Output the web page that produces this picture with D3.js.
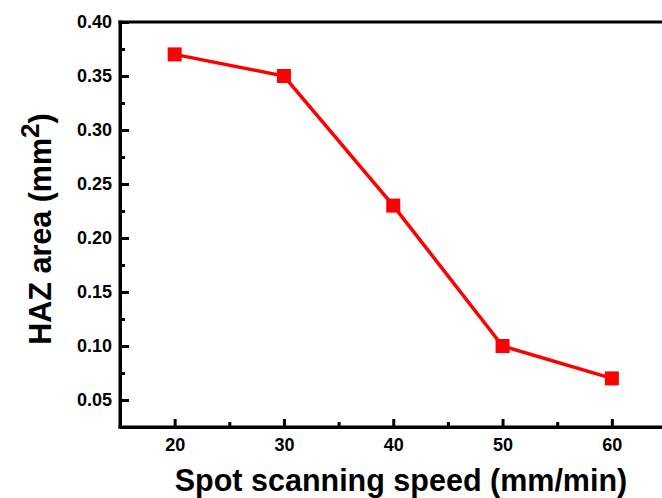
<!DOCTYPE html>
<html>
<head>
<meta charset="utf-8">
<script src="https://cdn.jsdelivr.net/npm/d3@7"></script>
<style>
  body { margin: 0; background: #fff; }
  svg text { font-family: Arial, "Liberation Sans", sans-serif; font-weight: bold; }
</style>
</head>
<body>
<div id="chart"></div>
<script>
// data
const speeds = [20, 30, 40, 50, 60];
const hazArea = [0.37, 0.35, 0.23, 0.10, 0.07];
const xTicks = [20, 30, 40, 50, 60];
const xMinor = [25, 35, 45, 55, 65];
const yTicks = [0.05, 0.10, 0.15, 0.20, 0.25, 0.30, 0.35, 0.40];
const yMinor = [0.075, 0.125, 0.175, 0.225, 0.275, 0.325, 0.375];

const W = 662, H = 498;
const mLeft = 120, mTop = 22, mBottom = 427;

const svg = d3.select("#chart").append("svg")
  .attr("width", W).attr("height", H);

const x = d3.scaleLinear().domain([15, 65]).range([mLeft, mLeft + 546.5]);
const y = d3.scaleLinear().domain([0.025, 0.40]).range([mBottom, mTop]);

// minor ticks
svg.append("g").attr("transform", `translate(0,${mBottom})`)
  .call(d3.axisBottom(x).tickValues(xMinor).tickSize(-5).tickFormat(""))
  .call(g => g.select(".domain").remove());
svg.append("g").attr("transform", `translate(${mLeft},0)`)
  .call(d3.axisLeft(y).tickValues(yMinor).tickSize(-5).tickFormat(""))
  .call(g => g.select(".domain").remove());

// major axes
const xAxis = svg.append("g").attr("transform", `translate(0,${mBottom})`)
  .call(d3.axisBottom(x).tickValues(xTicks).tickSizeInner(-8).tickSizeOuter(0).tickPadding(11));
const yAxis = svg.append("g").attr("transform", `translate(${mLeft},0)`)
  .call(d3.axisLeft(y).tickValues(yTicks).tickSizeInner(-9).tickSizeOuter(0).tickPadding(8)
    .tickFormat(d3.format(".2f")));

[xAxis, yAxis].forEach(g => {
  g.selectAll("text").style("font-size", "18px").attr("fill", "#000");
  g.select(".domain").attr("stroke-width", 3);
});
svg.selectAll(".tick line").attr("stroke-width", 3);

// top frame line
svg.append("line")
  .attr("x1", mLeft - 1.5).attr("x2", W)
  .attr("y1", mTop).attr("y2", mTop)
  .attr("stroke", "#000").attr("stroke-width", 3);
// extend axis lines to cover corners
svg.append("line")
  .attr("x1", mLeft).attr("x2", mLeft)
  .attr("y1", mTop - 1.5).attr("y2", mBottom + 1.5)
  .attr("stroke", "#000").attr("stroke-width", 3);
svg.append("line")
  .attr("x1", mLeft - 1.5).attr("x2", W)
  .attr("y1", mBottom).attr("y2", mBottom)
  .attr("stroke", "#000").attr("stroke-width", 3);

// line + markers
const pts = speeds.map((s, i) => [s, hazArea[i]]);
svg.append("path")
  .datum(pts)
  .attr("fill", "none")
  .attr("stroke", "#ff0000")
  .attr("stroke-width", 3.5)
  .attr("d", d3.line().x(d => x(d[0])).y(d => y(d[1])));

const ms = 14;
svg.selectAll(".pt").data(pts).enter().append("rect")
  .attr("class", "pt")
  .attr("x", d => x(d[0]) - ms / 2)
  .attr("y", d => y(d[1]) - ms / 2)
  .attr("width", ms).attr("height", ms)
  .attr("fill", "#ff0000");

// axis titles
svg.append("text")
  .attr("x", 401).attr("y", 491)
  .attr("text-anchor", "middle")
  .style("font-size", "30.5px")
  .text("Spot scanning speed (mm/min)");

const yl = svg.append("text")
  .attr("transform", "translate(51,229) rotate(-90)")
  .attr("text-anchor", "middle")
  .style("font-size", "30.5px");
yl.append("tspan").text("HAZ area (mm");
yl.append("tspan").attr("dy", -12).style("font-size", "26px").text("2");
yl.append("tspan").attr("dy", 12).text(")");
</script>
</body>
</html>
